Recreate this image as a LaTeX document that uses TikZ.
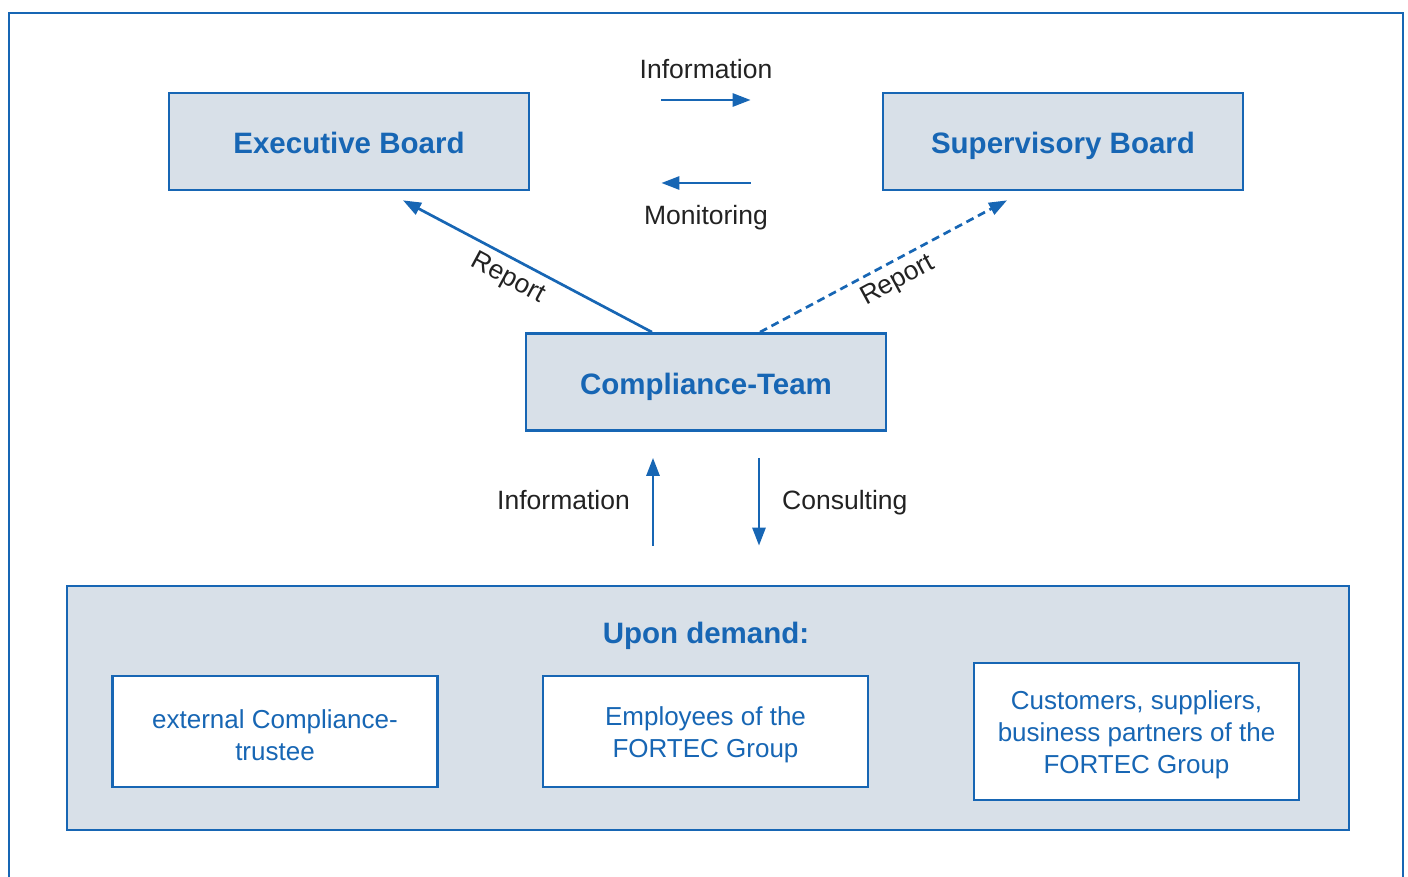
\documentclass[tikz,border=0pt]{standalone}
\usepackage{fontspec}
\setmainfont{Liberation Sans}
\usetikzlibrary{arrows.meta}
\definecolor{fblue}{RGB}{23,102,180}
\definecolor{fgrey}{RGB}{216,224,232}
\definecolor{ftext}{RGB}{34,34,34}
\newcommand{\fstrut}{\rule{0pt}{26pt}}

\begin{document}
\begin{tikzpicture}[x=1pt, y=-1pt,
    board/.style={draw=fblue, line width=2.7pt, fill=fgrey, minimum width=360pt, minimum height=97pt,
        text=fblue, text height=27pt, text depth=2pt, font=\fontsize{29.5}{34}\selectfont\bfseries},
    member/.style={draw=fblue, line width=2.7pt, fill=white, minimum width=325pt, text=fblue,
        align=center, font=\fontsize{26}{32}\selectfont},
    flow/.style={draw=fblue, line width=2.7pt, -{Triangle[length=18pt,width=13pt]}},
    lbl/.style={text=ftext, inner sep=0pt, font=\fontsize{26.5}{30}\selectfont}]
        \useasboundingbox (0,0) rectangle (1408,877);
        \draw [fblue, line width=2.7pt] (9,877) -- (9,13) -- (1403,13) -- (1403,877);

        % boards and team
        \node [board] (eb) at (349,141.5) {Executive Board};
        \node [board] (sb) at (1063,141.5) {Supervisory Board};
        \node [board] (ct) at (706,382) {Compliance-Team};

        % upon demand
        \node [draw=fblue, line width=2.7pt, fill=fgrey, minimum width=1282pt, minimum height=244pt] (ud) at (708,708) {};
        \node [text=fblue, inner sep=0pt, anchor=base, font=\fontsize{29.5}{34}\selectfont\bfseries] (udt) at (706,643) {Upon demand:};
        \node [member, minimum height=111pt] (ext) at (275,731.5) {\fstrut external Compliance-\\trustee};
        \node [member, minimum height=111pt] (emp) at (705.5,731.5) {\fstrut Employees of the\\FORTEC Group};
        \node [member, minimum height=137pt] (cus) at (1136.5,731.5) {\fstrut Customers, suppliers,\\business partners of the\\FORTEC Group};

        % between the boards
        \draw [flow] ([shift={(131,-41.5)}]eb.east) -- ([shift={(-131,-41.5)}]sb.west);
        \draw [flow] ([shift={(-131,41.5)}]sb.west) -- ([shift={(131,41.5)}]eb.east);
        \node [lbl, anchor=base] (infot) at (706,79) {Information};
        \node [lbl, anchor=base] (mont) at (706,225) {Monitoring};

        % reports
        \draw [flow] ([xshift=-54pt]ct.north) -- ([shift={(54,9)}]eb.south);
        \draw [flow, dash pattern=on 8pt off 5pt] ([xshift=54pt]ct.north) -- ([shift={(-56,9)}]sb.south);
        \node [lbl, rotate=-28.3] (repl) at (508,279) {Report};
        \node [lbl, rotate=28.5] (repr) at (898,281) {Report};

        % information and consulting
        \draw [flow] ([shift={(-55,-39)}]ud.north) -- ([shift={(-53,26)}]ct.south);
        \draw [flow] ([shift={(53,26)}]ct.south) -- ([shift={(51,-39)}]ud.north);
        \node [lbl, anchor=base east] (infol) at (630,509) {Information};
        \node [lbl, anchor=base west] (consl) at (782,509) {Consulting};
\end{tikzpicture}
\end{document}
